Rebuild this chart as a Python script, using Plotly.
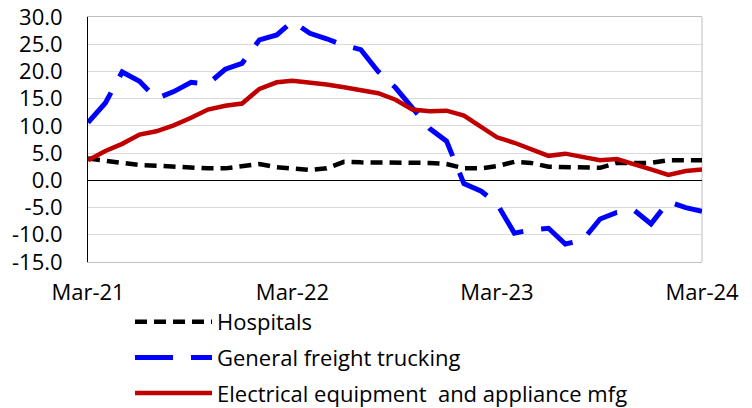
import pandas as pd
import plotly.graph_objects as go

months = pd.date_range("2021-03-01", periods=37, freq="MS")

hospitals = [4.0, 3.6, 3.4, 2.8, 2.7, 2.5, 2.5, 2.2, 2.2, 2.6, 3.0, 2.4, 2.1, 1.9, 2.2,
             3.4, 3.3, 3.3, 3.3, 3.2, 3.2, 3.0, 2.2, 2.2, 2.6, 3.4, 3.2, 2.5, 2.5, 2.3,
             2.3, 3.2, 3.1, 3.2, 3.7, 3.7, 3.7]
trucking = [10.6, 14.2, 19.9, 18.2, 15.0, 16.3, 18.0, 17.7, 20.4, 21.5, 25.8, 26.7, 29.2,
            27.0, 26.0, 24.8, 24.0, 20.0, 17.0, 13.4, 9.5, 7.2, -0.6, -2.0, -4.3, -9.7,
            -9.1, -8.8, -11.7, -11.0, -7.1, -5.9, -5.5, -8.0, -3.9, -5.0, -5.7]
electrical = [3.7, 5.4, 6.7, 8.4, 9.0, 10.1, 11.5, 13.0, 13.7, 14.1, 16.8, 18.0, 18.3,
              18.0, 17.6, 17.1, 16.5, 16.0, 14.8, 13.0, 12.7, 12.8, 11.9, 9.9, 7.9, 6.9,
              5.7, 4.5, 4.9, 4.2, 3.7, 3.9, 3.0, 2.0, 1.0, 1.7, 2.0]

x_tick_vals = ["2021-03-01", "2022-03-01", "2023-03-01", "2024-03-01"]
x_tick_text = ["Mar-21", "Mar-22", "Mar-23", "Mar-24"]
y_tick_vals = [-15, -10, -5, 0, 5, 10, 15, 20, 25, 30]
y_tick_text = ["-15.0", "-10.0", "-5.0", "0.0", "5.0", "10.0", "15.0", "20.0", "25.0", "30.0"]

FONT = "Open Sans"
FS = 22

fig = go.Figure()
fig.add_trace(go.Scatter(x=months, y=hospitals, mode="lines", name="Hospitals",
                         legendgroup="a",
                         line=dict(color="#000000", width=4.5, dash="12px,7px")))
fig.add_trace(go.Scatter(x=months, y=trucking, mode="lines", name="General freight trucking",
                         legendgroup="b",
                         line=dict(color="#0000FF", width=5, dash="38px,18px")))
fig.add_trace(go.Scatter(x=months, y=electrical, mode="lines",
                         name="Electrical equipment  and appliance mfg",
                         legendgroup="c",
                         line=dict(color="#C00000", width=4.5)))

xr = [x_tick_vals[0], x_tick_vals[-1]]
# page body has an 8px margin, so the figure is sized to fill the remaining window
fig.update_layout(
    width=744, height=400,
    margin=dict(l=80, r=50, t=9, b=146, autoexpand=False),
    paper_bgcolor="white", plot_bgcolor="white",
    font=dict(family=FONT, size=FS, color="#000000"),
    showlegend=True,
    legend=dict(orientation="v", xref="container", yref="container",
                x=0.164, y=0.2675, xanchor="left", yanchor="top",
                font=dict(family=FONT, size=FS, color="#000000"),
                itemwidth=77, tracegroupgap=4, traceorder="grouped",
                bgcolor="rgba(0,0,0,0)"),
    xaxis=dict(type="date", range=xr, tickvals=x_tick_vals, ticktext=x_tick_text,
               showgrid=False, zeroline=False, showline=True, linecolor="#BFBFBF",
               linewidth=1, mirror=True, ticks="", ticklabelstandoff=11, automargin=False,
               ticklabeloverflow="allow"),
    xaxis2=dict(type="date", range=xr, overlaying="x", anchor="free", position=1/3,
                tickvals=x_tick_vals[1:], showticklabels=False, showgrid=False,
                zeroline=False, showline=False, ticks="outside", ticklen=8,
                tickcolor="#000000", tickwidth=1, automargin=False),
    xaxis3=dict(type="date", range=xr, overlaying="x", anchor="free", position=1/3,
                tickvals=x_tick_vals[1:], showticklabels=False, showgrid=False,
                zeroline=False, showline=False, ticks="inside", ticklen=11,
                tickcolor="#000000", tickwidth=1, automargin=False),
    yaxis=dict(range=[-15, 30], tickvals=y_tick_vals, ticktext=y_tick_text,
               showgrid=True, gridcolor="#D9D9D9", gridwidth=1,
               zeroline=True, zerolinecolor="#000000", zerolinewidth=1,
               showline=True, linecolor="#000000", linewidth=1,
               ticks="", ticklabelstandoff=20, automargin=False,
               ticklabeloverflow="allow"),
    shapes=[dict(type="line", xref="x domain", yref="y domain", x0=1, x1=1, y0=0, y1=1,
                 line=dict(color="#BFBFBF", width=1), layer="below")],
)

fig.write_html("out.html")
